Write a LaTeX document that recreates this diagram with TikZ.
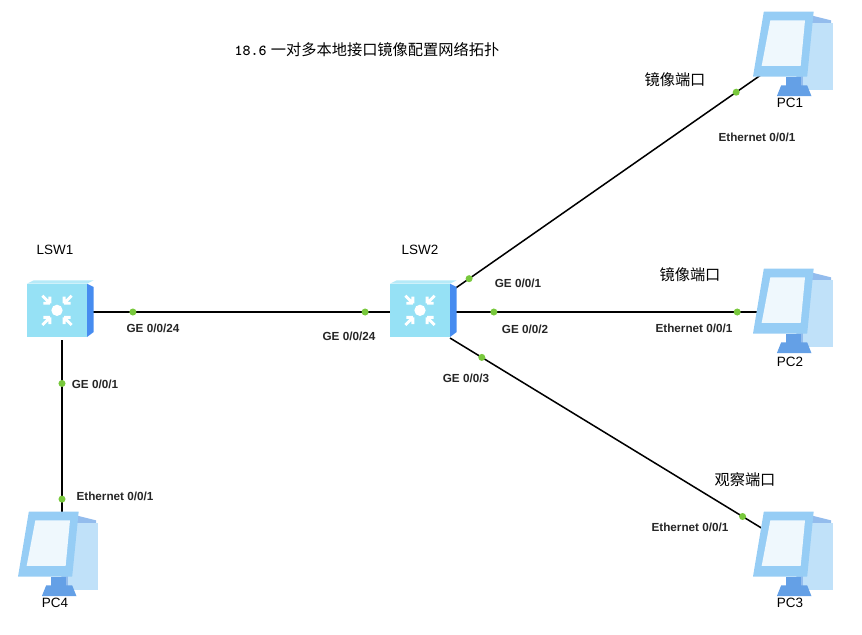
\documentclass[tikz,border=0pt]{standalone}
\usepackage{fontspec}
\setmainfont{Liberation Sans}
\newfontfamily\cjk{Noto Sans CJK SC}
\usetikzlibrary{positioning}
\definecolor{swfront}{RGB}{150,225,245}
\definecolor{swside}{RGB}{70,140,240}
\definecolor{pcblue}{RGB}{150,205,245}
\definecolor{pcdark}{RGB}{100,160,230}
\definecolor{portgreen}{RGB}{120,200,60}
\tikzset{
  dev/.style={minimum width=60pt, minimum height=55pt, inner sep=0pt},
  lbl/.style={font=\fontsize{11.5}{13}\selectfont},
  plbl/.style={font=\fontsize{10}{12}\selectfont\bfseries, text=black!85},
  cn/.style={font=\fontsize{13}{15}\selectfont\cjk},
  port/.style={fill=portgreen, circle, inner sep=0pt, minimum size=6pt},
  link/.style={line width=1.3pt},
  switchicon/.pic={
    \fill[swside] (0.9,-0.75) -- (1.1,-0.6) -- (1.1,0.75) -- (0.9,0.85) -- cycle;
    \fill[swfront!70] (-0.9,0.85) -- (-0.7,0.95) -- (1.1,0.95) -- (0.9,0.85) -- cycle;
    \fill[swfront] (-0.9,-0.75) rectangle (0.9,0.85);
    \fill[white] (0,0.05) circle (0.17);
    \foreach \a in {45,135,225,315}
      \draw[white, line width=2.5pt, rotate around={\a:(0,0.05)}] (0.3,0.05) -- (0.62,0.05) (0.3,0.05) -- (0.44,0.19) (0.3,0.05) -- (0.44,-0.09);
  },
  pcicon/.pic={
    \fill[pcdark!70] (0.1,-0.8) -- (0.9,-0.8) -- (0.9,0.8) -- (0.5,0.9) -- (0.1,0.8) -- cycle;
    \fill[pcblue!60] (0.25,-0.8) rectangle (0.95,0.75);
    \fill[pcdark] (-0.35,-0.95) -- (0.45,-0.95) -- (0.35,-0.7) -- (-0.25,-0.7) -- cycle;
    \fill[pcdark] (-0.15,-0.75) rectangle (0.2,-0.5);
    \fill[pcblue] (-0.9,-0.5) -- (0.35,-0.5) -- (0.5,1.0) -- (-0.65,1.0) -- cycle;
    \fill[white!85!pcblue] (-0.7,-0.25) -- (0.2,-0.25) -- (0.3,0.8) -- (-0.5,0.8) -- cycle;
  }
}
\begin{document}
\begin{tikzpicture}[x=0.03cm, y=-0.03cm]
  \useasboundingbox (0,0) rectangle (862,634);
  % devices
  \node[dev] (lsw1) at (57,312) {};
  \node[dev] (lsw2) at (420,312) {};
  \node[dev] (pc1) at (792,55) {};
  \node[dev] (pc2) at (792,312) {};
  \node[dev] (pc3) at (792,555) {};
  \node[dev] (pc4) at (57,555) {};
  \coordinate (sw1e) at (90,312);
  \coordinate (sw2w) at (390,312);
  \coordinate (sw2e) at (452,312);
  \coordinate (pc2w) at (762,312);
  \coordinate (sw2ne) at (450,292);
  \coordinate (sw2se) at (450,338);
  \coordinate (pc1in) at (768,70);
  \coordinate (pc3in) at (768,532);
  \coordinate (pc4in) at (62,525);
  \coordinate (sw1s) at (62,340);
  % links
  \draw[link] (sw1e) -- (sw2w)
    node[port, pos=0.143] {} node[port, pos=0.917] {};
  \draw[link] (sw1s) -- (pc4in)
    node[port, pos=0.235] {} node[port, pos=0.86] {};
  \draw[link] (sw2ne) -- (pc1in)
    node[port, pos=0.06] {} node[port, pos=0.9] {};
  \draw[link] (sw2e) -- (pc2w)
    node[port, pos=0.135] {} node[port, pos=0.92] {};
  \draw[link] (sw2se) -- (pc3in)
    node[port, pos=0.1] {} node[port, pos=0.92] {};
  % icons
  \foreach \n in {lsw1,lsw2} \pic[x=1cm, y=1cm] at (\n) {switchicon};
  \foreach \n in {pc1,pc2,pc3,pc4} \pic[x=1.3cm, y=1.3cm] at (\n) {pcicon};
  % names
  \node[lbl] at (55,250) {LSW1};
  \node[lbl] at (420,250) {LSW2};
  \node[lbl] at (790,103) {PC1};
  \node[lbl] at (790,362) {PC2};
  \node[lbl] at (790,603) {PC3};
  \node[lbl] at (55,603) {PC4};
  % ports
  \node[plbl] at (153,328) {GE 0/0/24};
  \node[plbl] at (349,336) {GE 0/0/24};
  \node[plbl] at (95,384) {GE 0/0/1};
  \node[plbl] at (115,496) {Ethernet 0/0/1};
  \node[plbl] at (518,283) {GE 0/0/1};
  \node[plbl] at (757,137) {Ethernet 0/0/1};
  \node[plbl] at (525,329) {GE 0/0/2};
  \node[plbl] at (694,328) {Ethernet 0/0/1};
  \node[plbl] at (466,378) {GE 0/0/3};
  \node[plbl] at (690,527) {Ethernet 0/0/1};
  \node[cn] at (675,80) {镜像端口};
  \node[cn] at (690,275) {镜像端口};
  \node[cn] at (745,480) {观察端口};
  \node[font=\fontsize{13}{15}\selectfont] at (367,50) {\texttt{\bfseries 18.6} {\cjk 一对多本地接口镜像配置网络拓扑}};
\end{tikzpicture}
\end{document}
